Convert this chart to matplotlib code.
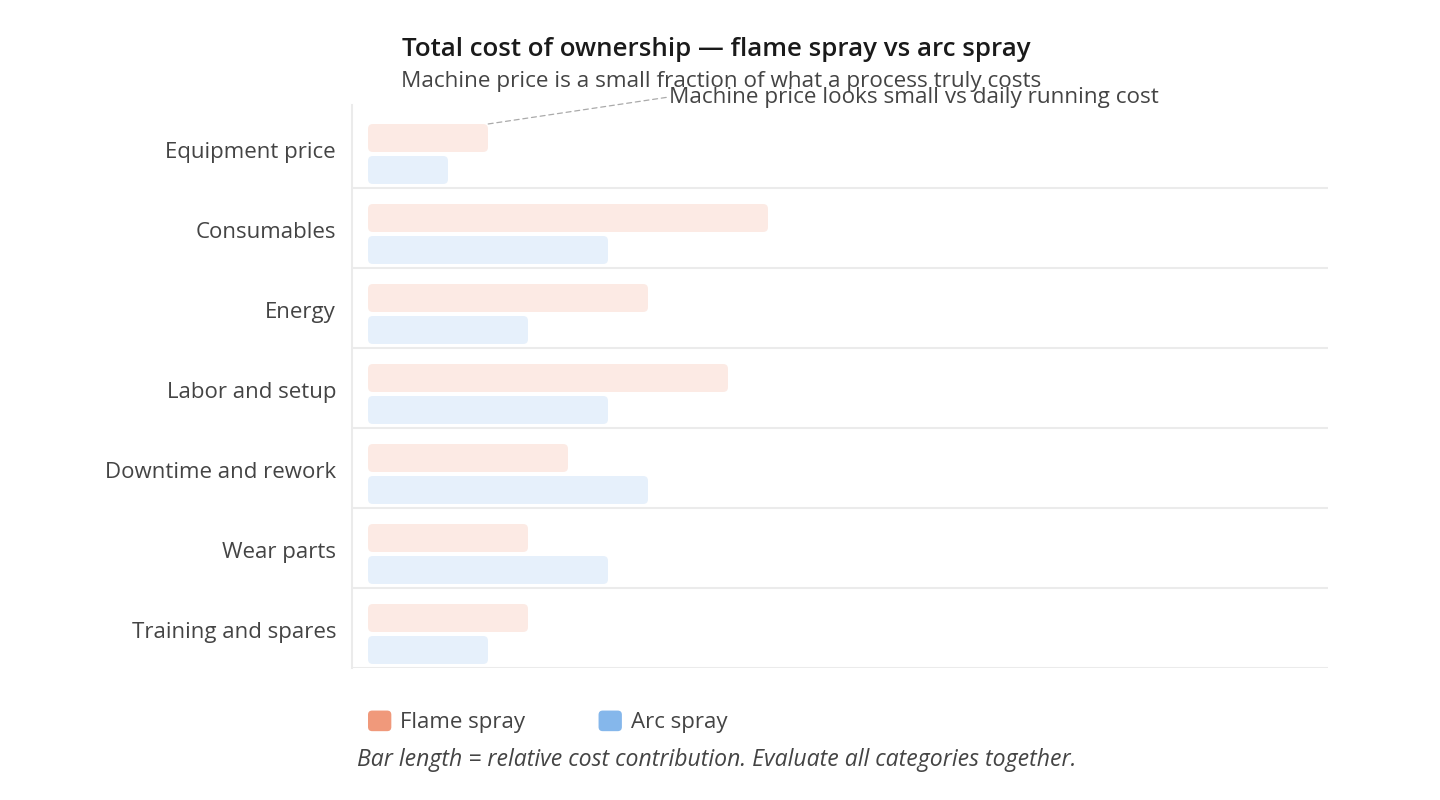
import matplotlib
matplotlib.use("Agg")
import matplotlib.pyplot as plt
from matplotlib.patches import FancyBboxPatch, Patch
from matplotlib.legend_handler import HandlerPatch

plt.rcParams["font.family"] = ["Open Sans", "DejaVu Sans"]

categories = ["Equipment price", "Consumables", "Energy", "Labor and setup",
              "Downtime and rework", "Wear parts", "Training and spares"]
flame = [3, 10, 7, 9, 5, 4, 4]
arc = [2, 6, 4, 6, 7, 6, 3]
series_names = ["Flame spray", "Arc spray"]
colors = ["#F0997B", "#85B7EB"]

W, H = 1440, 800
fig = plt.figure(figsize=(W / 100, H / 100), dpi=100)
ax = fig.add_axes([352 / W, 1 - 668 / H, (1328 - 352) / W, (668 - 105) / H])

rows = range(len(categories))
b1 = ax.barh([i + 0.2 for i in rows], flame, height=0.35, align="edge",
             color=colors[0], alpha=0.2)
b2 = ax.barh([i + 0.6 for i in rows], arc, height=0.35, align="edge",
             color=colors[1], alpha=0.2)

# swap plain rectangles for rounded ones
for bars in (b1, b2):
    for r in bars:
        x, y, w, h = r.get_x(), r.get_y(), r.get_width(), r.get_height()
        fb = FancyBboxPatch((x, y), w, h,
                            boxstyle="round,pad=0,rounding_size=0.12",
                            mutation_aspect=0.5, fc=r.get_facecolor(),
                            ec="none")
        ax.add_patch(fb)
        r.remove()

ax.set_xlim(-0.4, 24)
ax.set_ylim(len(categories), -0.0375)
ax.set_xticks([])
ax.set_yticks([i + 0.52 for i in rows])
ax.set_yticklabels(categories, fontsize=16, color="#444444")
ax.tick_params(axis="y", length=0, pad=11.5)
for i in range(1, len(categories) + 1):
    ax.axhline(i, color="#EBEBEB", lw=1.5, zorder=0)
for s in ["top", "right", "bottom"]:
    ax.spines[s].set_visible(False)
ax.spines["left"].set_color("#EBEBEB")
ax.spines["left"].set_linewidth(1.5)

ax.annotate("Machine price looks small vs daily running cost",
            xy=(flame[0], 0.2), xytext=(669, 800 - 97),
            textcoords="figure pixels", ha="left", va="center",
            fontsize=16.2, color="#444444",
            arrowprops=dict(arrowstyle="-", linestyle=(0, (4, 3)),
                            color="#AAAAAA", lw=0.9, shrinkA=0, shrinkB=0,
                            relpos=(0, 0.5)))

fig.text(402 / W, 1 - 49 / H, "Total cost of ownership — flame spray vs arc spray",
         fontsize=18.6, fontweight="semibold", color="#1a1a1a", va="center")
fig.text(401 / W, 1 - 81 / H,
         "Machine price is a small fraction of what a process truly costs",
         fontsize=16.2, color="#444444", va="center")


class RoundHandler(HandlerPatch):
    def create_artists(self, legend, orig_handle, xdescent, ydescent,
                       width, height, fontsize, trans):
        p = FancyBboxPatch((-xdescent, -ydescent), width, height,
                           boxstyle="round,pad=0,rounding_size=3",
                           fc=orig_handle.get_facecolor(), ec="none",
                           transform=trans)
        return [p]


handles = [Patch(fc=c, ec="none") for c in colors]
fig.legend(handles, series_names, loc="center left",
           bbox_to_anchor=(368 / W, 1 - 722 / H), ncol=2, frameon=False,
           fontsize=16, handlelength=1.05, handleheight=1.05,
           columnspacing=3.3, handletextpad=0.4, labelcolor="#444444",
           borderpad=0, borderaxespad=0,
           handler_map={Patch: RoundHandler()})
fig.text(357 / W, 1 - 760 / H,
         "Bar length = relative cost contribution. Evaluate all categories together.",
         fontsize=16.6, style="italic", color="#444444", va="center")

fig.savefig("out.png", dpi=100, facecolor="white")
